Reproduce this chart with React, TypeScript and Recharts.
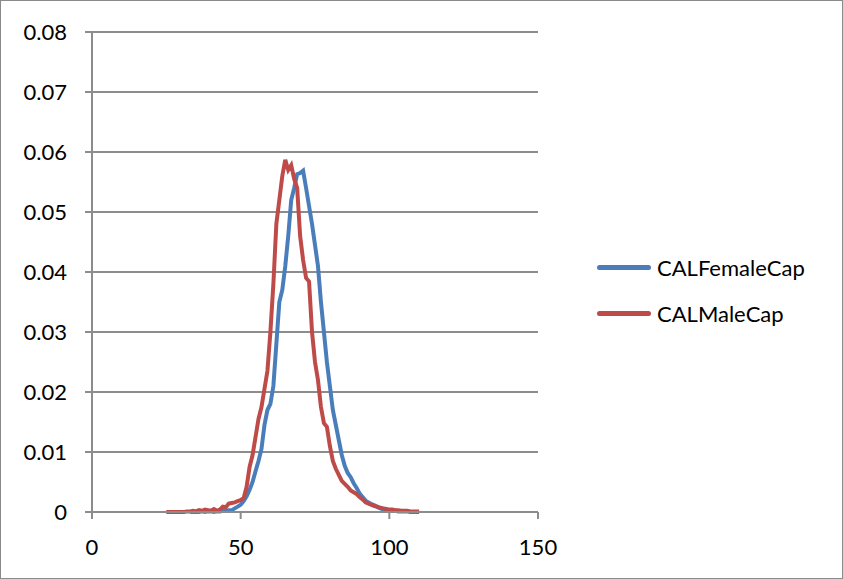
import { LineChart, Line, XAxis, YAxis, CartesianGrid } from 'recharts';

// x values (cm)
const xs = [
  25, 26, 27, 28, 29, 30, 31, 32, 33, 34, 35, 36, 37, 38, 39, 40, 41, 42, 43, 44,
  45, 46, 47, 48, 49, 50, 51, 52, 53, 54, 55, 56, 57, 58, 59, 60, 61, 62, 63, 64,
  65, 66, 67, 68, 69, 70, 71, 72, 73, 74, 75, 76, 77, 78, 79, 80, 81, 82, 83, 84,
  85, 86, 87, 88, 89, 90, 91, 92, 93, 94, 95, 96, 97, 98, 99, 100, 101, 102, 103, 104,
  105, 106, 107, 108, 109, 110,
];

const femaleCap = [
  null, null, null, null, null, null, null, null, 0, 0, 0, 0, 0.0001, 0, 0.0001, 0.0001, 0, 0.0001, 0.0001, 0.0002,
  0.0002, 0.0003, 0.0003, 0.0006, 0.0009, 0.0012, 0.0018, 0.0026, 0.0037, 0.005, 0.0068, 0.0085, 0.0105, 0.0145, 0.017, 0.018, 0.021, 0.028, 0.035, 0.037,
  0.041, 0.046, 0.052, 0.054, 0.0563, 0.0565, 0.0569, 0.054, 0.051, 0.048, 0.0445, 0.041, 0.035, 0.03, 0.025, 0.021, 0.017, 0.0145, 0.012, 0.0095,
  0.0077, 0.0065, 0.0058, 0.0048, 0.004, 0.0031, 0.0025, 0.0019, 0.0016, 0.0013, 0.0011, 0.0008, 0.0006, 0.0004, 0.0003, 0.0003, 0.0002, 0.0002, 0.0001, 0.0001,
  0.0001, 0.0001, 0, 0, 0, 0,
];

const maleCap = [
  0, 0, 0, 0, 0, 0, 0, 0.0001, 0.0001, 0.0002, 0.0001, 0.0003, 0.0002, 0.0004, 0.0003, 0.0002, 0.0005, 0.0002, 0.0004, 0.0009,
  0.0008, 0.0014, 0.0015, 0.0016, 0.0018, 0.002, 0.0023, 0.0042, 0.0075, 0.0095, 0.0125, 0.0155, 0.0175, 0.0205, 0.0235, 0.03, 0.038, 0.048, 0.052, 0.056,
  0.0587, 0.057, 0.0578, 0.0555, 0.054, 0.046, 0.042, 0.039, 0.0384, 0.03, 0.025, 0.022, 0.0175, 0.0148, 0.0142, 0.011, 0.0085, 0.0072, 0.0062, 0.0052,
  0.0047, 0.0042, 0.0036, 0.0033, 0.003, 0.0025, 0.0021, 0.0016, 0.0014, 0.0012, 0.001, 0.0009, 0.0007, 0.0006, 0.0005, 0.0004, 0.0004, 0.0003, 0.0003, 0.0002,
  0.0002, 0.0002, 0.0001, 0.0001, 0.0001, 0.0001,
];

const xTicks = [0, 50, 100, 150];
const yTicks = [0, 0.01, 0.02, 0.03, 0.04, 0.05, 0.06, 0.07, 0.08];

const series = [
  { key: 'CALFemaleCap', color: '#4a7ebb' },
  { key: 'CALMaleCap', color: '#be4b48' },
];

const data = xs.map((x, i) => ({ x, CALFemaleCap: femaleCap[i], CALMaleCap: maleCap[i] }));

const FONT = 'Lato, "Open Sans", sans-serif';
const GRID = '#8c8c8c';

export default function App() {
  return (
    <div
      style={{
        position: 'absolute',
        left: 0,
        top: 0,
        width: 843,
        height: 579,
        boxSizing: 'border-box',
        border: '1px solid #8a8a8a',
        background: '#fff',
      }}
    >
      <LineChart
        width={841}
        height={577}
        data={data}
        margin={{ top: 31, right: 304, bottom: 0, left: 0 }}
      >
        <CartesianGrid vertical={false} stroke={GRID} strokeWidth={2} />
        <XAxis
          dataKey="x"
          type="number"
          domain={[0, 150]}
          ticks={xTicks}
          height={66}
          stroke={GRID}
          strokeWidth={2}
          tickSize={7}
          tickMargin={20}
          tick={{ fill: '#000', fontSize: 22, fontFamily: FONT }}
        />
        <YAxis
          type="number"
          domain={[0, 0.08]}
          ticks={yTicks}
          width={91}
          stroke={GRID}
          strokeWidth={2}
          tickSize={7}
          tickMargin={18}
          tickFormatter={(v: number) => (v === 0 ? '0' : v.toFixed(2))}
          tick={{ fill: '#000', fontSize: 22, fontFamily: FONT }}
        />
        {series.map(s => (
          <Line
            key={s.key}
            type="linear"
            dataKey={s.key}
            stroke={s.color}
            strokeWidth={4}
            dot={false}
            isAnimationActive={false}
          />
        ))}
      </LineChart>
      <div
        style={{
          position: 'absolute',
          left: 596,
          top: 243,
          fontFamily: FONT,
          fontSize: 22,
          color: '#000',
        }}
      >
        {series.map(s => (
          <div key={s.key} style={{ display: 'flex', alignItems: 'center', height: 46 }}>
            <div style={{ width: 54, height: 5, borderRadius: 3, background: s.color, marginRight: 6 }} />
            <span>{s.key}</span>
          </div>
        ))}
      </div>
    </div>
  );
}
